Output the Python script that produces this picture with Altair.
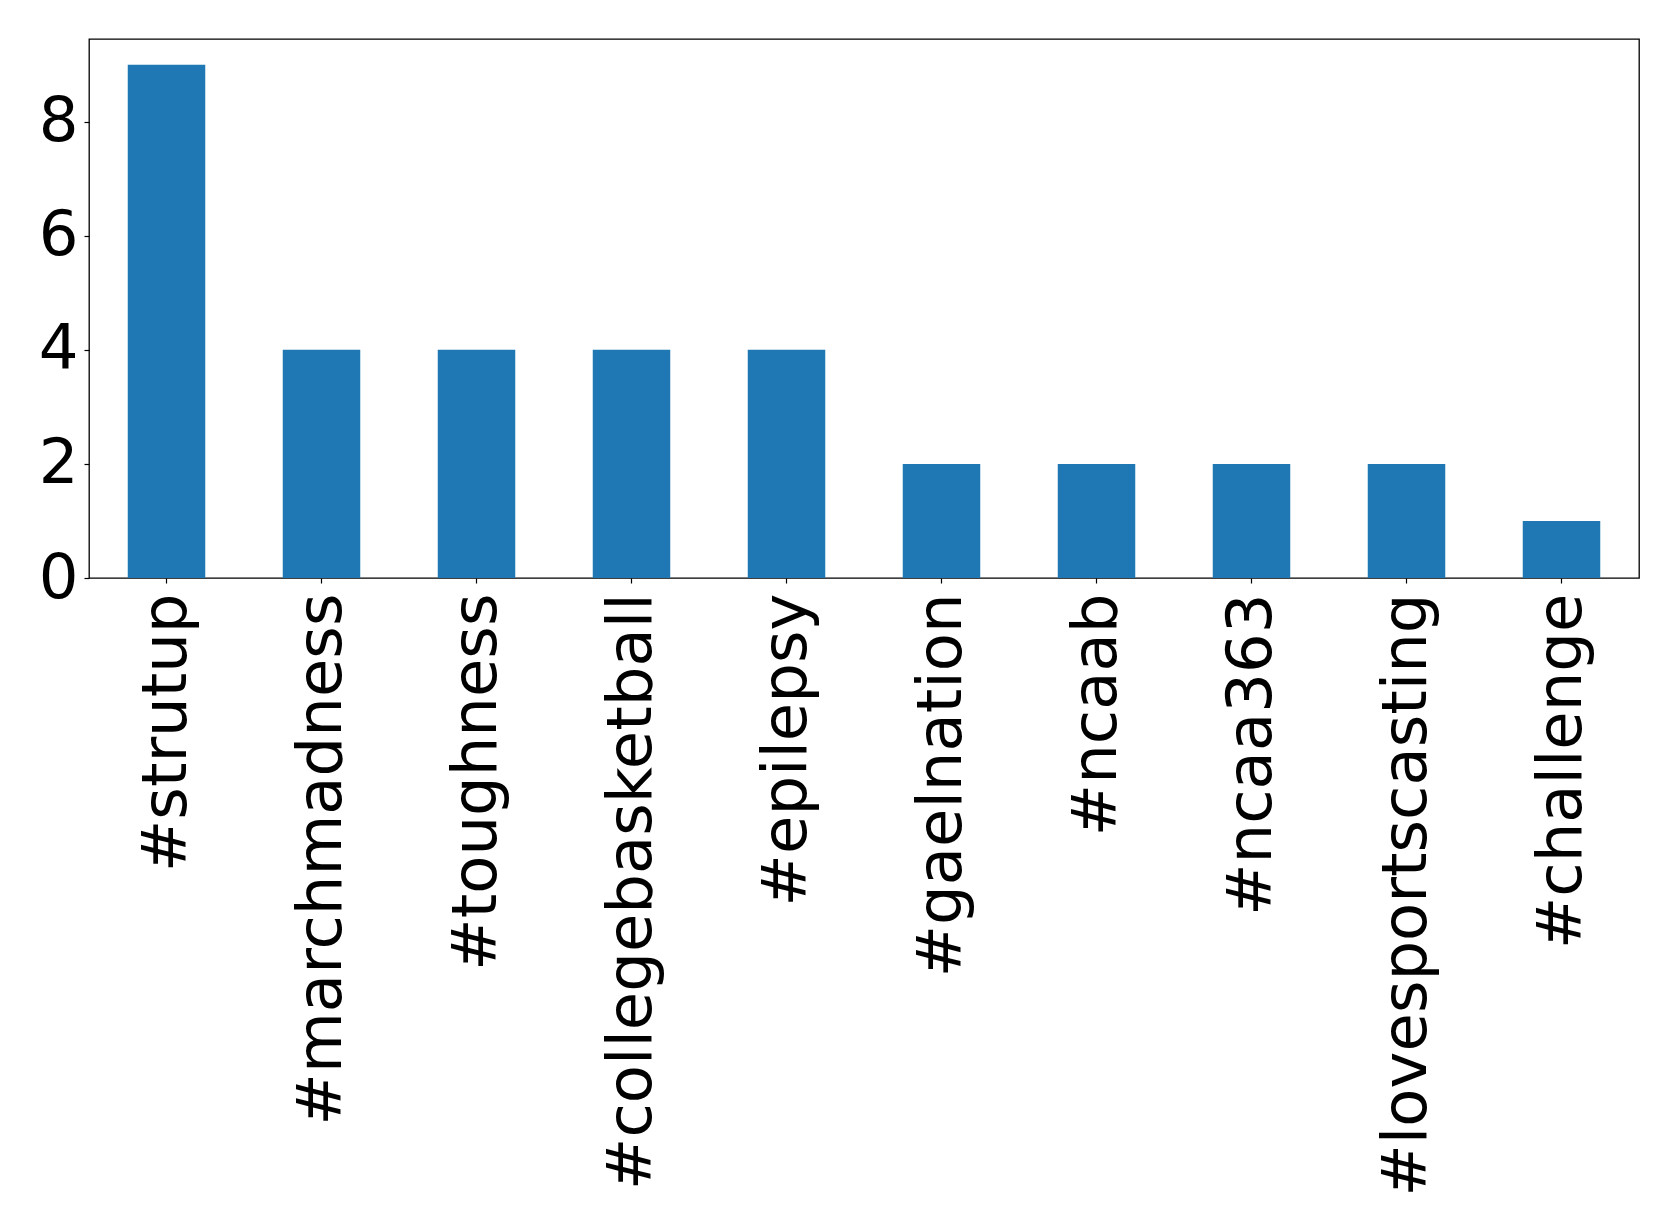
import altair as alt
import pandas as pd

# Hashtag counts
hashtags = ["#strutup", "#marchmadness", "#toughness", "#collegebasketball",
            "#epilepsy", "#gaelnation", "#ncaab", "#ncaa363",
            "#lovesportscasting", "#challenge"]
counts = [9, 4, 4, 4, 4, 2, 2, 2, 2, 1]
y_ticks = [0, 2, 4, 6, 8]

df = pd.DataFrame({"hashtag": hashtags, "count": counts})

FONT = "DejaVu Sans"

chart = (
    alt.Chart(df)
    .mark_bar(color="#1f77b4")
    .encode(
        x=alt.X(
            "hashtag:N",
            sort=hashtags,
            title=None,
            scale=alt.Scale(paddingInner=0.5, paddingOuter=0.25),
            axis=alt.Axis(
                labelAngle=270,
                labelAlign="right",
                labelBaseline="middle",
                labelFontSize=62.5,
                labelPadding=10,
                labelLimit=0,
                labelOverlap=False,
                tickSize=5,
            ),
        ),
        y=alt.Y(
            "count:Q",
            title=None,
            scale=alt.Scale(domain=[0, 9.45], nice=False, zero=True),
            axis=alt.Axis(values=y_ticks, labelFontSize=62.5, labelPadding=6,
                          tickSize=5),
        ),
    )
    .properties(
        width=1550,
        height=539,
        autosize=alt.AutoSizeParams(type="none"),
        padding={"left": 89, "top": 39, "right": 40, "bottom": 653},
        background="white",
    )
    .configure_view(stroke="black", strokeWidth=1.3)
    .configure_axis(
        domain=False,
        grid=False,
        tickColor="black",
        tickWidth=1.2,
        labelColor="black",
        labelFont=FONT,
    )
)

chart.save("out.html", embed_options={"renderer": "svg", "actions": False})
